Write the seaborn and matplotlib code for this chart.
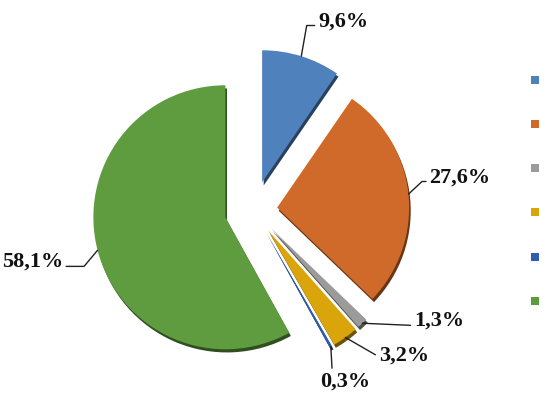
import matplotlib
matplotlib.use('Agg')
import matplotlib.pyplot as plt
import seaborn as sns
import numpy as np

# data, clockwise from 12 o'clock
shares = [9.6, 27.6, 1.3, 3.2, 0.3, 58.1]
share_labels = ['9,6%', '27,6%', '1,3%', '3,2%', '0,3%', '58,1%']
colors = ['#4f81bd', '#d06a2a', '#9b9b9b', '#d9a50a', '#2e5cae', '#5f9c40']
explode = [0.22, 0.18, 0.19, 0.19, 0.19, 0.22]

# label placement (offset in points from wedge rim, alignment, leader angle)
label_offsets = [(12, 25), (15, 12), (37, 2), (24, -13), (10, -25), (-25, -8)]
label_ha = ['left', 'left', 'left', 'left', 'center', 'right']
label_relpos = [(0, 0.3), (0, 0.3), (0, 0.25), (0, 0.3), (0.25, 1.0), (1, 0.25)]
leader_angle = [80, 43, None, -30, None, 50]


def darker(c, f=0.5):
    r, g, b = matplotlib.colors.to_rgb(c)
    return (r * f, g * f, b * f)


def main():
    sns.set_theme(style='white')
    plt.rcParams['font.family'] = ['Liberation Serif', 'DejaVu Serif']

    fig = plt.figure(figsize=(5.47, 3.96), dpi=100)
    ax = fig.add_axes([0, 0, 1, 1])
    ax.set_aspect('equal')
    ax.axis('off')

    # shadow layer, slightly offset down-right
    ax.pie(shares, colors=[darker(c) for c in colors], explode=explode,
           startangle=90, counterclock=False, radius=1.0,
           center=(0.012, -0.024), wedgeprops=dict(linewidth=0))
    wedges, _ = ax.pie(shares, colors=colors, explode=explode,
                       startangle=90, counterclock=False, radius=1.0,
                       center=(0, 0), wedgeprops=dict(linewidth=0))

    for i, w in enumerate(wedges):
        mid = np.deg2rad((w.theta1 + w.theta2) / 2)
        cx, cy = w.center
        xy = (cx + w.r * np.cos(mid), cy + w.r * np.sin(mid))
        if leader_angle[i] is None:
            conn = 'arc3'
        else:
            conn = 'angle,angleA=0,angleB=%d,rad=0' % leader_angle[i]
        ax.annotate(share_labels[i], xy=xy, xytext=label_offsets[i],
                    textcoords='offset points', ha=label_ha[i],
                    va='center', fontsize=16, fontweight='bold',
                    color='#111111',
                    arrowprops=dict(arrowstyle='-', color='#222222', lw=1,
                                    shrinkA=0, shrinkB=0,
                                    relpos=label_relpos[i],
                                    connectionstyle=conn))

    ax.set_xlim(-1.92, 2.223)
    ax.set_ylim(-1.409, 1.591)

    fig.legend(wedges, [''] * len(wedges), loc='upper left',
               bbox_to_anchor=(531 / 547, 1 - 76 / 396), frameon=False,
               fontsize=8.2, handlelength=0.7, handleheight=0.7,
               labelspacing=3.0, borderpad=0, borderaxespad=0,
               handletextpad=0.3)

    fig.savefig('out.png', dpi=100, facecolor='white')


if __name__ == '__main__':
    main()
